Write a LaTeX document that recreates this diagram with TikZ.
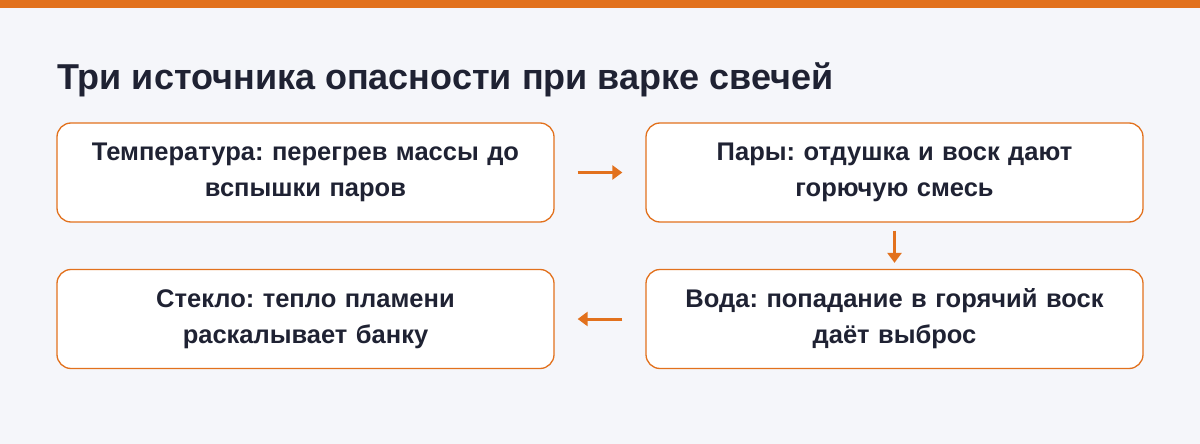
\documentclass[tikz,border=0pt]{standalone}
\usepackage{fontspec}
\setmainfont{Liberation Sans}
\usetikzlibrary{arrows.meta}
\definecolor{bg}{HTML}{F5F6FA}
\definecolor{org}{HTML}{E2711D}
\definecolor{ink}{HTML}{1F2233}
\begin{document}
\frenchspacing
\begin{tikzpicture}[x=1pt,y=-1pt,
 box/.style={draw=org,line width=1.3pt,fill=white,rounded corners=14pt,minimum width=497pt,minimum height=99pt,align=center,text width=470pt,font=\fontsize{25.5}{36}\selectfont\bfseries,text=ink},
 arr/.style={draw=org,line width=3pt,-{Triangle[length=10pt,width=14pt]}}]
\useasboundingbox (0,0) rectangle (1200,444);
\fill[bg] (0,0) rectangle (1200,444);
\fill[org] (0,0) rectangle (1200,8);
\node[anchor=base west,font=\fontsize{36}{42}\selectfont\bfseries,text=ink,inner sep=0] (title) at (57,90) {Три источника опасности при варке свечей};
\node[box] (b1) at (305.5,172.5) {Температура: перегрев массы до\\вспышки паров};
\node[box] (b2) at (894.5,172.5) {Пары: отдушка и воск дают\\горючую смесь};
\node[box] (b3) at (305.5,319) {Стекло: тепло пламени\\раскалывает банку};
\node[box] (b4) at (894.5,319) {Вода: попадание в горячий воск\\даёт выброс};
\draw[arr] ([xshift=23pt]b1.east) -- ([xshift=-23pt]b2.west);
\draw[arr] ([yshift=-8pt]b2.south) -- ([yshift=6pt]b4.north);
\draw[arr] ([xshift=-23pt]b4.west) -- ([xshift=23pt]b3.east);
\end{tikzpicture}
\end{document}
